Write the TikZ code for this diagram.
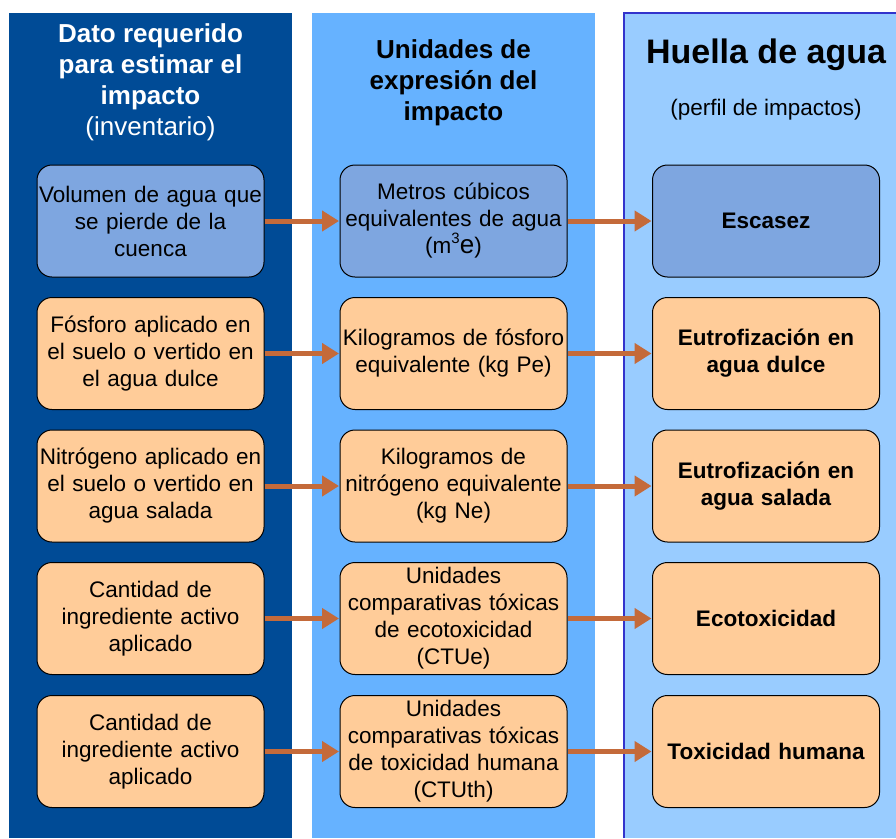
\documentclass[tikz,border=0pt]{standalone}
\usepackage{fontspec}
\setmainfont{Liberation Sans}
\usetikzlibrary{arrows.meta}
\definecolor{azuloscuro}{HTML}{004B96}
\definecolor{azulmedio}{HTML}{66B2FF}
\definecolor{azulclaro}{HTML}{99CCFF}
\definecolor{borde}{HTML}{3333CC}
\definecolor{cajaazul}{HTML}{7EA6E0}
\definecolor{durazno}{HTML}{FFCC99}
\definecolor{flechacol}{HTML}{C46A3A}
\begin{document}
\begin{tikzpicture}[x=1pt,y=-1pt,
  caja/.style={draw=black,line width=1pt,rounded corners=15pt,fill=durazno,minimum width=227pt,minimum height=112pt,inner sep=0pt,text width=227pt,align=center,font=\fontsize{22.5}{27}\selectfont},
  titulo/.style={align=center,font=\fontsize{26}{31}\selectfont\bfseries},
  flecha/.style={flechacol,line width=5pt,-{Triangle[length=17pt,width=20pt]},shorten >=0.5pt}]
\useasboundingbox (0,0) rectangle (896,838);
\fill[azuloscuro] (9,13) rectangle (292,838);
\fill[azulmedio] (312,13) rectangle (595,838);
\fill[azulclaro] (624,13) rectangle (896,838);
\draw[borde,line width=1.2pt] (624,838) |- (896,13);
\node[titulo,text=white] (t1) at (150.5,82) {Dato requerido\\para estimar el\\impacto\\{\mdseries (inventario)}};
\node[titulo] (t2) at (453.5,83) {Unidades de\\expresión del\\impacto};
\node[font=\fontsize{34}{40}\selectfont\bfseries] (t3) at (766,55) {Huella de agua};
\node[font=\fontsize{22.5}{27}\selectfont] (t4) at (766,110) {(perfil de impactos)};
\node[caja,fill=cajaazul] (d1) at (150.5,221) {Volumen de agua que\\se pierde de la\\cuenca};
\node[caja] (d2) at (150.5,353.5) {Fósforo aplicado en\\el suelo o vertido en\\el agua dulce};
\node[caja] (d3) at (150.5,486) {Nitrógeno aplicado en\\el suelo o vertido en\\agua salada};
\node[caja] (d4) at (150.5,618.5) {Cantidad de\\ingrediente activo\\aplicado};
\node[caja] (d5) at (150.5,751.5) {Cantidad de\\ingrediente activo\\aplicado};
\node[caja,fill=cajaazul] (u1) at (453.5,221) {Metros cúbicos\\equivalentes de agua\\(m\raisebox{10pt}{\fontsize{15}{15}\selectfont 3}{\fontsize{26}{27}\selectfont e})};
\node[caja] (u2) at (453.5,353.5) {Kilogramos de fósforo\\equivalente (kg Pe)};
\node[caja] (u3) at (453.5,486) {Kilogramos de\\nitrógeno equivalente\\(kg Ne)};
\node[caja] (u4) at (453.5,618.5) {Unidades\\comparativas tóxicas\\de ecotoxicidad\\(CTUe)};
\node[caja] (u5) at (453.5,751.5) {Unidades\\comparativas tóxicas\\de toxicidad humana\\(CTUth)};
\node[caja,fill=cajaazul,font=\fontsize{22.5}{27}\selectfont\bfseries] (h1) at (766,221) {Escasez};
\node[caja,font=\fontsize{22.5}{27}\selectfont\bfseries] (h2) at (766,353.5) {Eutrofización en\\agua dulce};
\node[caja,font=\fontsize{22.5}{27}\selectfont\bfseries] (h3) at (766,486) {Eutrofización en\\agua salada};
\node[caja,font=\fontsize{22.5}{27}\selectfont\bfseries] (h4) at (766,618.5) {Ecotoxicidad};
\node[caja,font=\fontsize{22.5}{27}\selectfont\bfseries] (h5) at (766,751.5) {Toxicidad humana};
\foreach \i in {1,...,5}{
  \draw[flecha] (d\i) -- (u\i);
  \draw[flecha] (u\i) -- (h\i);
}
\end{tikzpicture}
\end{document}
